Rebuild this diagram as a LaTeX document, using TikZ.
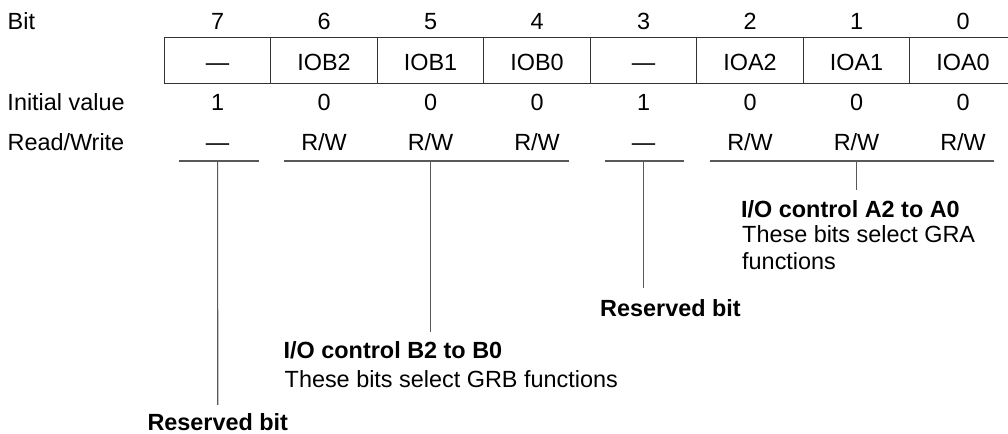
\documentclass[tikz,border=0pt]{standalone}
\usepackage{fontspec}
\setmainfont{Liberation Sans}
\newcommand\rwtext{R/W}
\begin{document}
\begin{tikzpicture}[x=1bp,y=-1bp,
  txt/.style={font=\fontsize{23.5}{27}\selectfont, inner sep=0pt, anchor=base},
  lbl/.style={txt, anchor=base west},
  bld/.style={lbl, font=\fontsize{23.5}{27}\selectfont\bfseries},
  cell/.style={draw=black!80, line width=1.1bp, minimum width=106.5bp, minimum height=46bp,
    inner sep=0pt, text height=24bp, text depth=2.6bp, font=\fontsize{23.5}{27}\selectfont},
  rule/.style={draw=black!65, line width=1.1bp}]
\clip (0,0) rectangle (1008,434);
\fill[white] (0,0) rectangle (1008,434);

% row labels
\node[lbl] (bitlbl) at (7.5,30) {Bit};
\node[lbl] (ivlbl) at (7.3,110.7) {Initial value};
\node[lbl] (rwlbl) at (7.4,151) {Read/Write};

% register cells
\foreach \i/\t/\v/\a in {7/—/1/—, 6/IOB2/0/\rwtext, 5/IOB1/0/\rwtext, 4/IOB0/0/\rwtext,
                          3/—/1/—, 2/IOA2/0/\rwtext, 1/IOA1/0/\rwtext, 0/IOA0/0/\rwtext}{
  \pgfmathsetmacro\cx{217.55+106.5*(7-\i)}
  \node[txt] (bn\i) at (\cx,30) {\i};
  \node[cell] (b\i) at (\cx,60.3) {\t};
  \node[txt] (iv\i) at (\cx,110.7) {\v};
  \node[txt] (rw\i) at (\cx,151) {\a};
}

% underline groups
\coordinate (u7l) at (179.3,161); \coordinate (u7r) at (258.7,161);
\coordinate (uBl) at (284,161);   \coordinate (uBr) at (569,161);
\coordinate (u3l) at (605,161);   \coordinate (u3r) at (684,161);
\coordinate (uAl) at (710,161);   \coordinate (uAr) at (994,161);
\draw[rule] (u7l) -- (u7r);
\draw[rule] (uBl) -- (uBr);
\draw[rule] (u3l) -- (u3r);
\draw[rule] (uAl) -- (uAr);

% descriptions
\node[bld, anchor=base] (res7) at (217.8,430) {Reserved bit};
\node[bld] (bHead) at (283.5,359) {I/O control B2 to B0};
\node[lbl] (bText) at (284.5,388) {These bits select GRB functions};
\node[bld] (res3) at (600,316.7) {Reserved bit};
\node[bld] (aHead) at (741,217.3) {I/O control A2 to A0};
\node[lbl] (aText1) at (742,243) {These bits select GRA};
\node[lbl] (aText2) at (742,270) {functions};

% leader lines
\draw[rule, shorten >=8bp] (b7 |- u7l) -- (res7.north);
\draw[rule, shorten >=10bp] (b5 |- uBl) -- (b5 |- bHead.north);
\draw[rule, shorten >=11.5bp] (b3 |- u3l) -- (b3 |- res3.north);
\draw[rule, shorten >=10bp] (b1 |- uAl) -- (b1 |- aHead.north);
\end{tikzpicture}
\end{document}
